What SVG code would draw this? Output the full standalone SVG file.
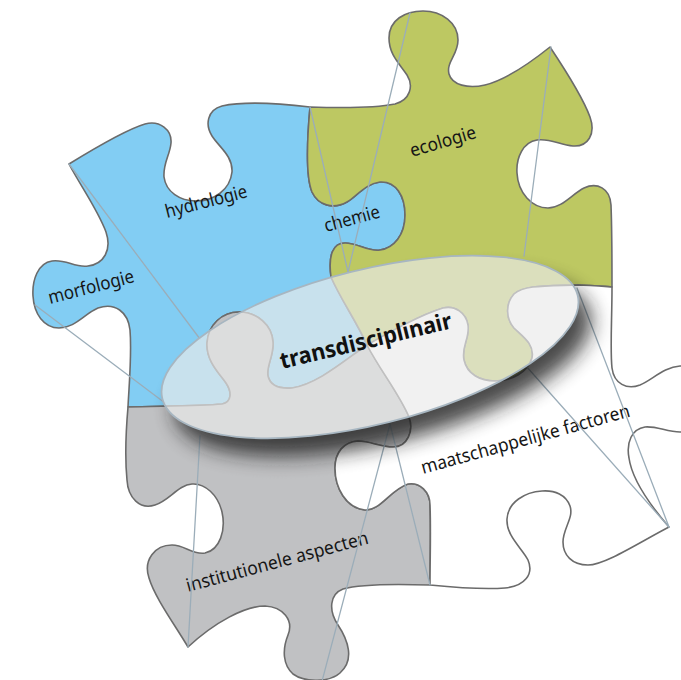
<svg xmlns="http://www.w3.org/2000/svg" width="681" height="680" viewBox="0 0 681 680">
  <defs>
    <style>
      .piece{stroke:#6b6b6b;stroke-width:1.6;stroke-linejoin:round}
      .label{font-family:"Noto Sans","Open Sans","DejaVu Sans",sans-serif;font-size:18.5px;fill:#161616}
      .title{font-family:"Noto Sans","Open Sans","DejaVu Sans",sans-serif;font-size:23px;font-weight:bold;fill:#111}
      .guide{stroke:#9badb9;stroke-width:1.3;fill:none;stroke-linecap:round}
    </style>
    <filter id="soft" x="-20%" y="-60%" width="140%" height="220%">
      <feGaussianBlur stdDeviation="10"/>
    </filter>
    <mask id="outsideLens">
      <rect width="681" height="680" fill="#fff"/>
      <ellipse cx="370" cy="347" rx="214" ry="77.5" transform="rotate(-14 370 347)" fill="#000"/>
    </mask>
  </defs>

  <rect width="681" height="680" fill="#fff"/>

  <!-- blue piece -->
  <g id="hydrologie">
    <path class="piece" fill="#82cdf3" d="M69,164 C95,148 125,130 145,124 C160,120 172,130 171,143 C170,155 163,163 164,177 C166,192 180,201 196,201 C214,201 230,190 232,172 C233,156 219,147 212,136 C205,125 207,110 222,106 C245,101 285,104 310,107 C307,140 305,175 312,192 C318,205 333,210 347,202 C357,196 365,184 380,182 C396,181 405,196 405,215 C405,235 394,248 380,250 C368,252 358,243 345,243 C333,243 328,255 331,277 C341,300 357,322 367,345 C345,360 318,384 292,388 C279,389 270,385 268,376 C266,366 274,356 273,342 C272,325 257,312 239,312 C222,312 208,325 207,343 C206,360 218,372 226,383 C232,392 232,402 222,404 C200,406 160,406 128,407 C129,385 132,355 130,330 C128,312 115,302 98,308 C84,314 75,328 59,328 C44,328 34,314 33,296 C32,280 38,263 52,261 C66,259 75,268 88,266 C104,264 112,250 106,232 C98,210 80,185 69,164 Z"/>
    <text class="label" transform="translate(167,218) rotate(-14.5)" textLength="84" lengthAdjust="spacingAndGlyphs">hydrologie</text>
    <text class="label" transform="translate(50,304) rotate(-14.5)" textLength="88" lengthAdjust="spacingAndGlyphs">morfologie</text>
    <text class="label" transform="translate(326,232) rotate(-15)" textLength="57" lengthAdjust="spacingAndGlyphs">chemie</text>
  </g>

  <!-- green piece -->
  <g id="ecologie">
    <path class="piece" fill="#bdc862" d="M310,107 C340,108 375,108 395,104 C410,100 414,86 407,75 C400,64 389,55 389,38 C389,20 405,11 423,11 C442,11 458,23 458,40 C458,55 446,62 449,74 C452,85 468,89 485,85 C505,80 530,63 550,47 C562,65 582,95 590,117 C596,134 588,147 573,146 C560,145 550,138 537,140 C523,142 516,158 517,173 C518,193 532,208 548,208 C562,208 572,194 584,188 C597,182 610,188 611,205 C612,230 612,260 612,287 C600,286 590,285 577,285 C545,286 524,285 514,294 C505,304 506,319 514,328 C522,336 535,344 532,358 C528,372 512,381 495,381 C480,381 467,374 464,360 C461,347 470,338 468,325 C466,313 455,305 443,308 C420,315 390,332 367,345 C357,322 341,300 331,277 C328,255 333,243 345,243 C358,243 368,252 380,250 C394,248 405,235 405,215 C405,196 396,181 380,182 C365,184 357,196 347,202 C333,210 318,205 312,192 C305,175 307,140 310,107 Z"/>
    <text class="label" transform="translate(412,157) rotate(-16.5)" textLength="68" lengthAdjust="spacingAndGlyphs">ecologie</text>
  </g>

  <!-- grey piece -->
  <g id="institutionele-aspecten">
    <path class="piece" fill="#c0c1c3" d="M128,407 C160,406 200,406 222,404 C232,402 232,392 226,383 C218,372 206,360 207,343 C208,325 222,312 239,312 C257,312 272,325 273,342 C274,356 266,366 268,376 C270,385 279,389 292,388 C318,384 345,360 367,345 C380,370 400,395 409,417 C414,430 408,447 393,447 C380,447 370,441 358,441 C344,442 335,452 335,468 C335,488 346,508 365,510 C380,511 390,490 408,484 C420,482 430,492 430,505 C431,530 430,560 430,585 C400,584 360,584 343,589 C330,594 328,610 338,625 C348,640 355,660 340,673 C330,682 305,683 293,674 C283,665 282,650 288,635 C294,620 283,607 265,606 C245,606 215,622 188,647 C175,625 155,598 149,578 C143,560 155,545 172,545 C185,545 192,555 205,553 C220,550 226,530 222,512 C218,495 205,483 192,484 C178,485 170,500 155,505 C140,510 128,498 127,480 C125,460 126,430 128,407 Z"/>
    <text class="label" transform="translate(188,592) rotate(-15)" textLength="188" lengthAdjust="spacingAndGlyphs">institutionele aspecten</text>
  </g>

  <!-- white piece -->
  <g id="maatschappelijke-factoren">
    <path class="piece" fill="#ffffff" d="M367,345 C390,332 420,315 443,308 C455,305 466,313 468,325 C470,338 461,347 464,360 C467,374 480,381 495,381 C512,381 528,372 532,358 C535,344 522,336 514,328 C506,319 505,304 514,294 C524,285 545,286 577,285 C590,285 600,286 612,287 C612,320 610,350 612,368 C614,384 627,390 640,385 C652,380 664,367 680,366 C695,366 700,380 700,400 C700,420 692,432 680,432 C667,432 657,426 645,427 C632,429 626,442 629,458 C632,480 650,505 669,527 C640,542 605,565 588,565 C572,565 563,555 563,542 C563,528 574,518 570,506 C566,495 555,490 542,491 C525,492 508,502 507,519 C506,536 522,548 528,560 C534,574 525,586 505,588 C480,590 450,587 430,585 C430,560 431,530 430,505 C430,492 420,482 408,484 C390,490 380,511 365,510 C346,508 335,488 335,468 C335,452 344,442 358,441 C370,441 380,447 393,447 C408,447 414,430 409,417 C400,395 380,370 367,345 Z"/>
    <text class="label" transform="translate(423,474) rotate(-15.5)" textLength="216" lengthAdjust="spacingAndGlyphs">maatschappelijke factoren</text>
  </g>

  <!-- guide lines running from the outer corners towards the lens -->
  <g id="connectors" class="guide">
    <line x1="69" y1="164" x2="200" y2="339"/>
    <line x1="35" y1="305" x2="165" y2="403"/>
    <line x1="310" y1="107" x2="348" y2="272"/>
    <line x1="410" y1="13" x2="348" y2="272"/>
    <line x1="551" y1="47" x2="524" y2="256"/>
    <line x1="577" y1="288" x2="669" y2="527"/>
    <line x1="526" y1="366" x2="669" y2="527"/>
    <line x1="200" y1="436" x2="188" y2="647"/>
    <line x1="390" y1="424" x2="321" y2="685"/>
    <line x1="390" y1="424" x2="430" y2="585"/>
  </g>

  <!-- drop shadow of the lens, kept outside the lens itself -->
  <g mask="url(#outsideLens)">
    <ellipse cx="370" cy="347" rx="214" ry="77.5" transform="translate(13,18) rotate(-14 370 347)" fill="#1e1e1e" opacity="0.8" filter="url(#soft)"/>
  </g>

  <!-- translucent lens -->
  <g id="transdisciplinair">
    <ellipse cx="370" cy="347" rx="214" ry="77.5" transform="rotate(-14 370 347)" fill="#eaeaea" fill-opacity="0.67" stroke="#a7b6c1" stroke-width="1.8"/>
    <text class="title" transform="translate(282,369) rotate(-13.5)" textLength="176" lengthAdjust="spacingAndGlyphs">transdisciplinair</text>
  </g>
</svg>
